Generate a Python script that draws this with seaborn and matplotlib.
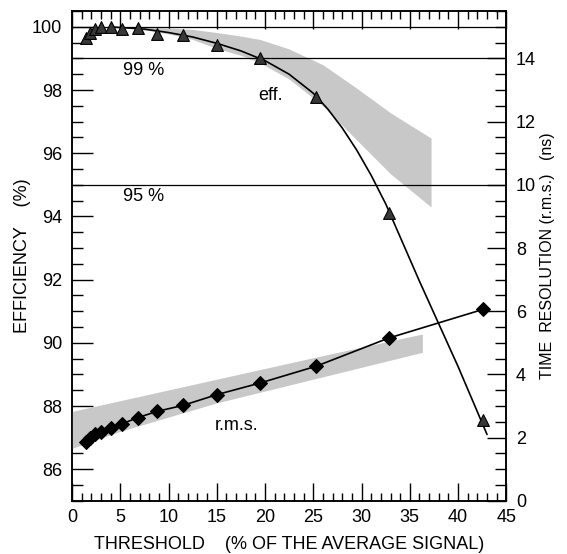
import numpy as np
import pandas as pd
import matplotlib
matplotlib.use("Agg")
import matplotlib.pyplot as plt
from matplotlib.ticker import MultipleLocator
import seaborn as sns

# measured points (threshold in % of average signal)
threshold = [1.4, 1.9, 2.4, 3.0, 4.0, 5.2, 6.8, 8.8, 11.5, 15.0, 19.5, 25.3, 32.8, 42.6]
efficiency = [99.65, 99.8, 99.93, 99.99, 100.0, 99.92, 99.96, 99.76, 99.75, 99.42, 99.02, 97.77, 94.1, 87.55]
rms_ns = [1.86, 2.0, 2.1, 2.19, 2.31, 2.44, 2.63, 2.83, 3.02, 3.36, 3.73, 4.26, 5.15, 6.06]

# smooth curve through efficiency
fit_x = [4, 7.5, 10, 12.5, 15, 17.5, 20, 22.5, 25, 26.5, 28, 29.5, 31, 32.5, 34, 36, 38, 40, 43]
fit_eff = [100.0, 99.93, 99.82, 99.68, 99.48, 99.24, 98.93, 98.5, 97.9, 97.4, 96.8,
           96.1, 95.3, 94.4, 93.35, 91.95, 90.6, 89.25, 87.1]

# gray bands (expected ranges)
eff_band_x = [6.5, 8, 10, 12.5, 15, 17.5, 19.5, 22.5, 26, 29.5, 33, 37.2]
eff_band_hi = [99.97, 99.98, 99.96, 99.92, 99.82, 99.71, 99.6, 99.3, 98.8, 98.06, 97.28, 96.48]
eff_band_lo = [99.93, 99.88, 99.78, 99.6, 99.32, 99.1, 98.86, 98.35, 97.5, 96.42, 95.35, 94.3]

rms_band_x = [0, 5, 10, 15, 25, 36.3]
rms_band_hi = [2.83, 3.17, 3.51, 3.85, 4.53, 5.28]
rms_band_lo = [1.66, 2.2, 2.65, 3.1, 3.85, 4.7]

ref_levels = [100, 99, 95]

df = pd.DataFrame({"threshold": threshold, "eff": efficiency, "rms": rms_ns})
fit = pd.DataFrame({"x": fit_x, "eff": fit_eff})

sns.set_style("ticks")
plt.rcParams["font.family"] = ["Liberation Sans", "DejaVu Sans"]
plt.rcParams["font.size"] = 13
for key in ["text.color", "axes.labelcolor", "xtick.color", "ytick.color", "axes.edgecolor"]:
    plt.rcParams[key] = "black"

fig = plt.figure(figsize=(5.67, 5.54), dpi=100)
ax = fig.add_axes([0.127, 0.096, 0.766, 0.884])
ax2 = ax.twinx()

band_col = "#c8c8c8"
ax.fill_between(eff_band_x, eff_band_lo, eff_band_hi, color=band_col, lw=0, zorder=1)
ax2.fill_between(rms_band_x, rms_band_lo, rms_band_hi, color=band_col, lw=0, zorder=1)

for lev in ref_levels:
    ax.axhline(lev, color="black", lw=0.9, zorder=2)

sns.lineplot(data=fit, x="x", y="eff", ax=ax, color="black", lw=1.2, zorder=3)
sns.scatterplot(data=df, x="threshold", y="eff", ax=ax, marker="^", s=72,
                color="#383838", edgecolor="black", linewidth=0.8, zorder=4)
sns.lineplot(data=df, x="threshold", y="rms", ax=ax2, color="black", lw=1.2,
             marker="D", markersize=7.3, markeredgecolor="black", zorder=4)

ax.set_xlim(0, 45)
ax.set_ylim(85, 100.5)
ax2.set_ylim(0, 15.5)

ax.xaxis.set_major_locator(MultipleLocator(5))
ax.xaxis.set_minor_locator(MultipleLocator(1))
ax.yaxis.set_major_locator(MultipleLocator(2))
ax.yaxis.set_minor_locator(MultipleLocator(0.5))
ax2.yaxis.set_major_locator(MultipleLocator(2))
ax2.yaxis.set_minor_locator(MultipleLocator(0.5))

ax.tick_params(axis="x", which="major", direction="in", length=13, width=1, top=True, labelsize=13, pad=6)
ax.tick_params(axis="x", which="minor", direction="in", length=6, width=1, top=True)
ax.tick_params(axis="y", which="major", direction="in", length=15, width=1, right=False, labelsize=13, pad=7)
ax.tick_params(axis="y", which="minor", direction="in", length=8, width=1, right=False)
ax2.tick_params(axis="y", which="major", direction="in", length=14, width=1, labelsize=13, pad=7)
ax2.tick_params(axis="y", which="minor", direction="in", length=8, width=1)

for a in (ax, ax2):
    for sp in a.spines.values():
        sp.set_visible(True)
        sp.set_linewidth(1.1)

ax.set_xlabel("THRESHOLD    (% OF THE AVERAGE SIGNAL)", fontsize=13, labelpad=7)
ax.set_ylabel("EFFICIENCY    (%)", fontsize=13, labelpad=1)
ax2.set_ylabel("TIME  RESOLUTION (r.m.s.)   (ns)", fontsize=11.5, labelpad=3)

ax.text(5.3, 98.63, "99 %", fontsize=13, va="center")
ax.text(5.3, 94.63, "95 %", fontsize=13, va="center")
ax.text(19.3, 97.84, "eff.", fontsize=13, va="center")
ax2.text(14.8, 2.39, "r.m.s.", fontsize=13, va="center")

fig.savefig("out.png", dpi=100)
